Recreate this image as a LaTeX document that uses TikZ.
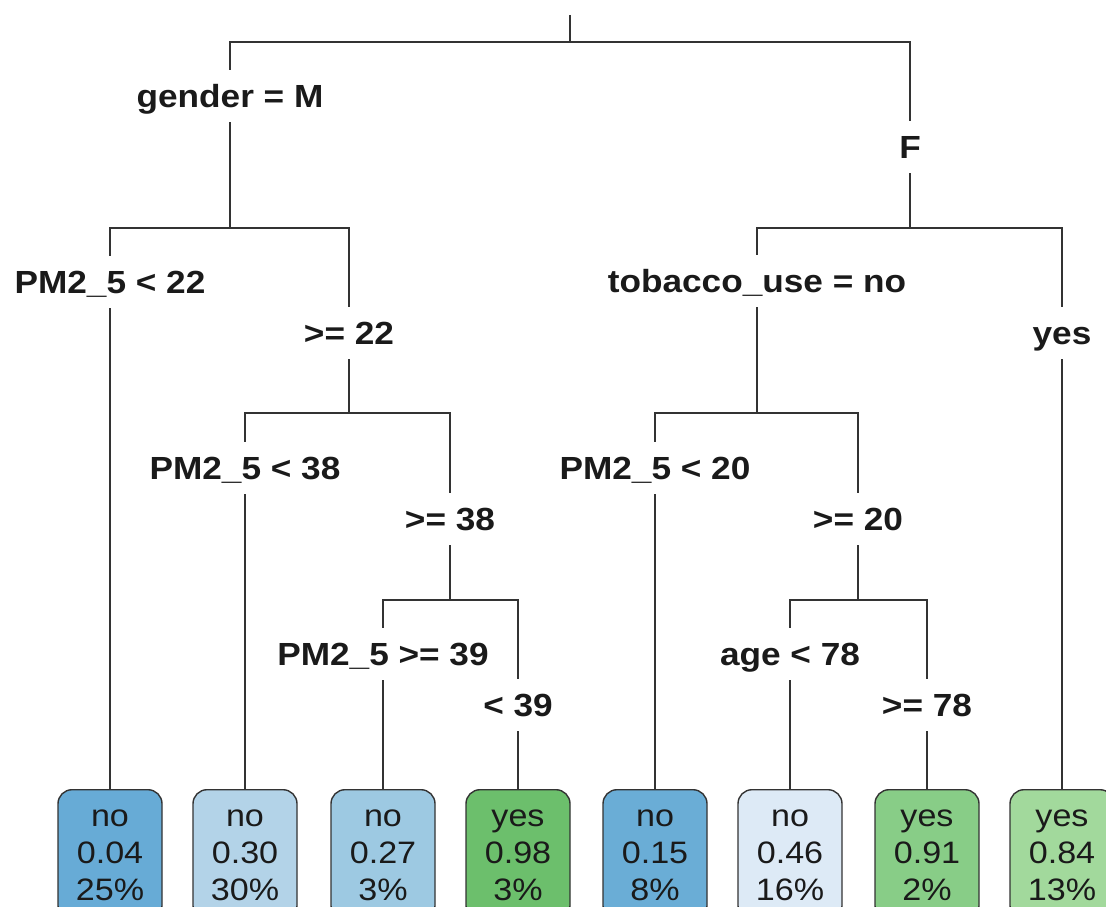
\documentclass[tikz,border=0pt]{standalone}
\usepackage{graphicx}
\usepackage{fontspec}
\setmainfont{Liberation Sans}
\definecolor{leafA}{HTML}{67ABD6}
\definecolor{leafB}{HTML}{B3D3E8}
\definecolor{leafC}{HTML}{9DC9E2}
\definecolor{leafD}{HTML}{6CBF6C}
\definecolor{leafE}{HTML}{6AADD6}
\definecolor{leafF}{HTML}{DDEAF6}
\definecolor{leafG}{HTML}{88CD87}
\definecolor{leafH}{HTML}{A2D99C}
\definecolor{ink}{HTML}{1A1A1A}
\definecolor{wire}{HTML}{333333}
% slightly widened glyphs, as in the printed tree
\newcommand{\wide}[1]{\scalebox{1.1}[1]{#1}}
% leaf box with class, probability and share of observations
\newcommand{\leafnode}[6]{%
  \node[leafbox, fill=#3] (#1) at (#2,789) {};
  \node[leaftxt] (#1a) at (#2,826) {\wide{#4}};
  \node[leaftxt] (#1b) at (#2,863) {\wide{#5}};
  \node[leaftxt] (#1c) at (#2,900) {\wide{#6}};
}
\begin{document}
\begin{tikzpicture}[x=1pt,y=-1pt,
  edge/.style={draw=wire, line width=1.8pt},
  split/.style={font=\bfseries\fontsize{32}{36}\selectfont, anchor=base,
    inner xsep=0pt, inner ysep=14pt, text height=23pt, text depth=1pt, text=ink},
  leafbox/.style={draw=wire, line width=1.4pt, rounded corners=14pt, anchor=north,
    minimum width=104pt, minimum height=130pt, inner sep=0pt},
  leaftxt/.style={font=\fontsize{31}{37}\selectfont, anchor=base, inner sep=0pt, text=ink},
]
\useasboundingbox (0,0) rectangle (1106,907);
\clip (0,0) rectangle (1106,907);

% split labels
\node[split] (g)    at (230,107) {\wide{gender = M}};
\node[split] (f)    at (910,158) {\wide{F}};
\node[split] (p22)  at (110,293) {\wide{PM2\_5 < 22}};
\node[split] (ge22) at (349,344) {\wide{>= 22}};
\node[split] (tob)  at (757,292) {\wide{tobacco\_use = no}};
\node[split] (yes1) at (1062,344) {\wide{yes}};
\node[split] (p38)  at (245,479) {\wide{PM2\_5 < 38}};
\node[split] (ge38) at (450,530) {\wide{>= 38}};
\node[split] (p20)  at (655,479) {\wide{PM2\_5 < 20}};
\node[split] (ge20) at (858,530) {\wide{>= 20}};
\node[split] (p39)  at (383,665) {\wide{PM2\_5 >= 39}};
\node[split] (lt39) at (518,716) {\wide{< 39}};
\node[split] (a78)  at (790,665) {\wide{age < 78}};
\node[split] (ge78) at (927,716) {\wide{>= 78}};

% leaves
\leafnode{l1}{110}{leafA}{no}{0.04}{25\%}
\leafnode{l2}{245}{leafB}{no}{0.30}{30\%}
\leafnode{l3}{383}{leafC}{no}{0.27}{3\%}
\leafnode{l4}{518}{leafD}{yes}{0.98}{3\%}
\leafnode{l5}{655}{leafE}{no}{0.15}{8\%}
\leafnode{l6}{790}{leafF}{no}{0.46}{16\%}
\leafnode{l7}{927}{leafG}{yes}{0.91}{2\%}
\leafnode{l8}{1062}{leafH}{yes}{0.84}{13\%}

% branch points
\coordinate (top) at (570,15);
\coordinate (j0) at (570,42);
\coordinate (j1) at (230,228);
\coordinate (j2) at (910,228);
\coordinate (j3) at (349,413);
\coordinate (j4) at (757,413);
\coordinate (j5) at (450,600);
\coordinate (j6) at (858,600);

% connectors
\draw[edge] (top) -- (j0);
\draw[edge] (g.north) |- (j0) -| (f.north);
\draw[edge] (g.south) -- (j1);
\draw[edge] (f.south) -- (j2);
\draw[edge] (p22.north) |- (j1) -| (ge22.north);
\draw[edge] (tob.north) |- (j2) -| (yes1.north);
\draw[edge] (p22.south) -- (l1.north);
\draw[edge] (ge22.south) -- (j3);
\draw[edge] (tob.south) -- (j4);
\draw[edge] (yes1.south) -- (l8.north);
\draw[edge] (p38.north) |- (j3) -| (ge38.north);
\draw[edge] (p20.north) |- (j4) -| (ge20.north);
\draw[edge] (p38.south) -- (l2.north);
\draw[edge] (p20.south) -- (l5.north);
\draw[edge] (ge38.south) -- (j5);
\draw[edge] (ge20.south) -- (j6);
\draw[edge] (p39.north) |- (j5) -| (lt39.north);
\draw[edge] (a78.north) |- (j6) -| (ge78.north);
\draw[edge] (p39.south) -- (l3.north);
\draw[edge] (lt39.south) -- (l4.north);
\draw[edge] (a78.south) -- (l6.north);
\draw[edge] (ge78.south) -- (l7.north);
\end{tikzpicture}
\end{document}
